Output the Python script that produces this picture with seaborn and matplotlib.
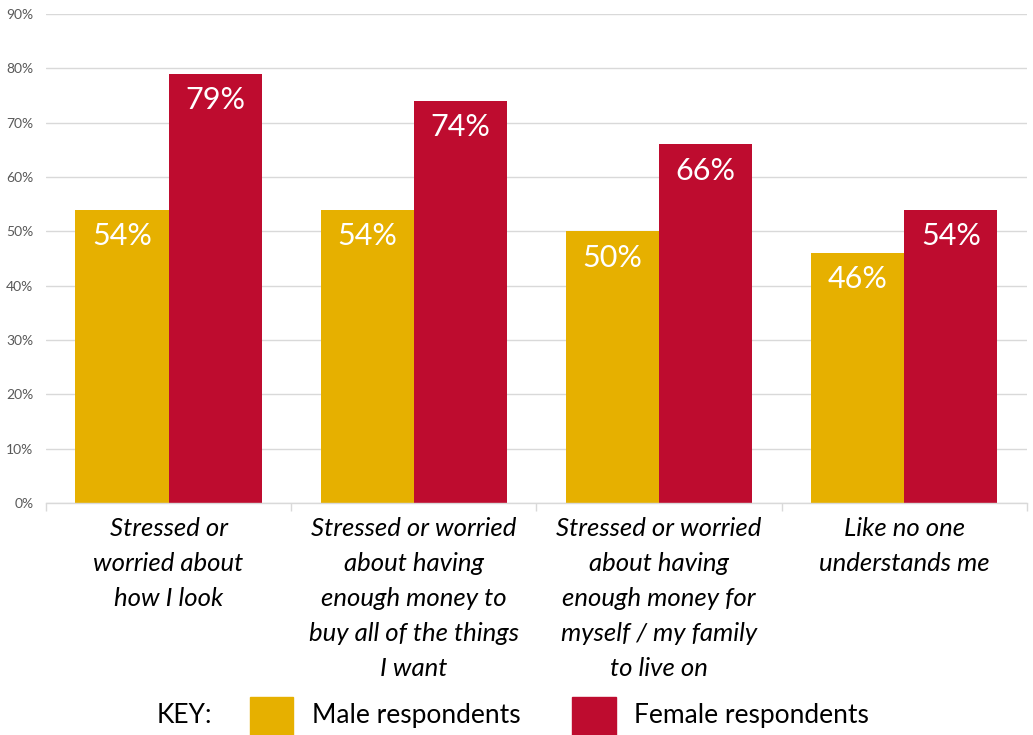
import matplotlib
matplotlib.use("Agg")
import matplotlib.pyplot as plt
import seaborn as sns
import pandas as pd
from matplotlib.patches import Rectangle

categories = [
    "Stressed or\nworried about\nhow I look",
    "Stressed or worried\nabout having\nenough money to\nbuy all of the things\nI want",
    "Stressed or worried\nabout having\nenough money for\nmyself / my family\nto live on",
    "Like no one\nunderstands me",
]
male = [54, 54, 50, 46]
female = [79, 74, 66, 54]
series = ["Male respondents", "Female respondents"]
colors = ["#E6B000", "#BE0C2F"]
yticks = [0, 10, 20, 30, 40, 50, 60, 70, 80, 90]

sns.set_theme(style="white")
plt.rcParams["font.family"] = ["Lato", "DejaVu Sans"]

df = pd.DataFrame({
    "cat": categories * 2,
    "val": male + female,
    "series": [series[0]] * 4 + [series[1]] * 4,
})

fig = plt.figure(figsize=(10.33, 7.35), dpi=100)
ax = fig.add_axes([0.0445, 0.3156, 0.9495, 0.6654])
sns.barplot(data=df, x="cat", y="val", hue="series", palette=colors,
            width=0.76, ax=ax, legend=False, saturation=1, linewidth=0)

ax.set_xlim(-0.5, 3.5)
ax.set_ylim(0, 90)
ax.set_yticks(yticks)
ax.set_yticklabels([f"{v}%" for v in yticks], fontsize=10, color="#595959")
ax.grid(axis="y", color="#D9D9D9", linewidth=1)
ax.set_axisbelow(True)
for s in ["top", "right", "left"]:
    ax.spines[s].set_visible(False)
ax.spines["bottom"].set_color("#D9D9D9")
ax.spines["bottom"].set_linewidth(1)
ax.tick_params(axis="y", length=0, pad=9)
ax.set_xticks(range(4))
ax.set_xticklabels(categories, fontsize=18.5, style="italic", color="black",
                   linespacing=1.63)
ax.tick_params(axis="x", length=0, pad=10)
ax.set_xticks([-0.5, 0.5, 1.5, 2.5, 3.5], minor=True)
ax.tick_params(axis="x", which="minor", length=6, color="#D9D9D9", width=1, bottom=True)
ax.set_xlabel("")
ax.set_ylabel("")

for cont in ax.containers:
    labels = [f"{v:.0f}%" for v in cont.datavalues]
    ax.bar_label(cont, labels=labels, label_type="edge", padding=-29,
                 color="white", fontsize=22)

# Legend
fig.text(0.152, 0.026, "KEY:", fontsize=19, color="black", va="center")
for i, (name, col) in enumerate(zip(series, colors)):
    x0 = 0.242 + i * 0.312
    fig.add_artist(Rectangle((x0, 0.0), 0.042, 0.052, transform=fig.transFigure,
                             color=col, clip_on=False))
    fig.text(x0 + 0.060, 0.026, name, fontsize=19, color="black", va="center")

fig.savefig("out.png", dpi=100)
